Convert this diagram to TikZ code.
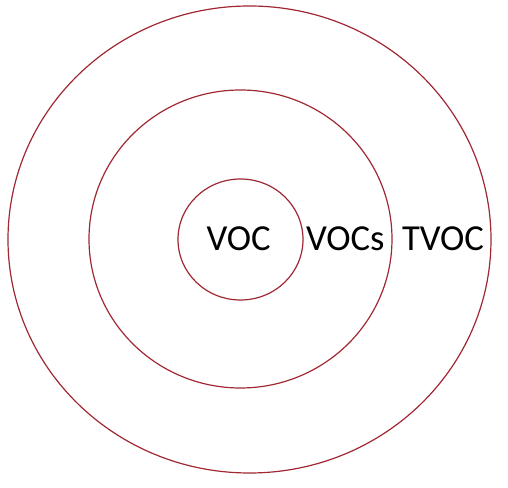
\documentclass[tikz,border=0pt]{standalone}
\usepackage{fontspec}
\setmainfont{Carlito}
\definecolor{ringred}{RGB}{160,40,50}
\tikzset{every picture/.style={line width=0.75pt}}
\tikzset{ring/.style={draw=ringred, line width=0.9pt}}
\tikzset{label/.style={anchor=base west, inner sep=0.75pt, font=\fontsize{27.5}{33}\selectfont}}

\begin{document}
\begin{tikzpicture}[x=0.75pt,y=0.75pt,yscale=-1,xscale=1]
\useasboundingbox (0,0) rectangle (508,488);

%Shape: Ellipse [outer]
\draw [ring] (249.5,239.5) ellipse (241.5 and 233.5);
%Shape: Ellipse [middle]
\draw [ring] (240.5,239) ellipse (151.5 and 149);
%Shape: Ellipse [inner]
\draw [ring] (240.5,239.5) ellipse (62.5 and 60.5);

% Text Node
\node [label] (voc) at (205,251) {VOC};
% Text Node
\node [label] (vocs) at (304.5,251) {VOCs};
% Text Node
\node [label] (tvoc) at (400.5,251) {TVOC};

\end{tikzpicture}
\end{document}
